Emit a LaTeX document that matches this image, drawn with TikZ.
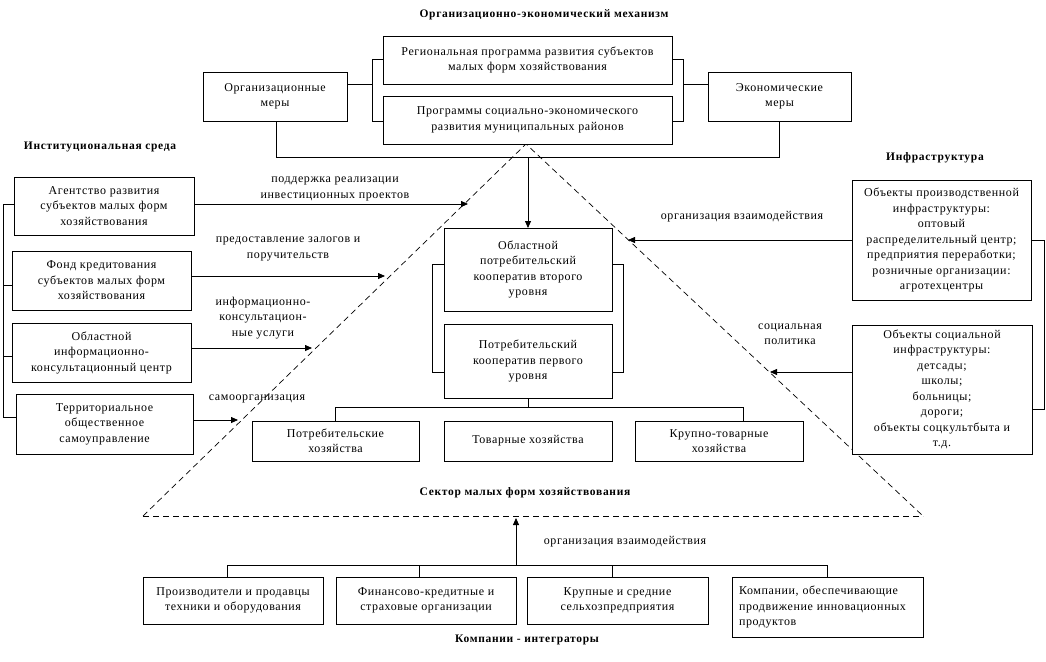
\documentclass[tikz,border=0pt]{standalone}
\usepackage{fontspec}
\setmainfont{Liberation Serif}
\newfontfamily\boxfont[LetterSpace=5]{Liberation Serif}
\newfontfamily\hdfont[LetterSpace=6]{Liberation Serif}
\usetikzlibrary{arrows.meta}
\begin{document}
\begin{tikzpicture}[x=1pt,y=-1pt,
  every node/.style={inner sep=0pt, outer sep=0pt},
  txt/.style={font=\boxfont\fontsize{12}{15.5}\selectfont, align=center},
  hd/.style={font=\hdfont\bfseries\fontsize{11.5}{13}\selectfont, align=center},
  box/.style={draw, line width=0.8pt, fill=white, txt},
  ln/.style={line width=0.8pt},
  arr/.style={line width=0.8pt, -{Triangle[length=7pt,width=6pt]}},
  dsh/.style={line width=0.7pt, dash pattern=on 6pt off 4pt}
]
\useasboundingbox (0,0) rectangle (1046,661);
% dashed triangle
\coordinate (apex) at (526,144);
\coordinate (bl) at (143,516);
\coordinate (br) at (923,516);
\draw[dsh] (bl) -- (apex) -- (br);
\draw[dsh] (bl) -- (br);

% headings
\node[hd] (t1) at (544,15) {Организационно-экономический механизм};
\node[hd] (t2) at (100,147) {Институциональная среда};
\node[hd] (t3) at (935,158) {Инфраструктура};
\node[hd] (t4) at (525,493) {Сектор малых форм хозяйствования};
\node[hd] (t5) at (527,640) {Компании - интеграторы};

% top boxes
\node[box, minimum width=144pt, minimum height=49pt] (org) at (275,96.5) {Организационные\\меры};
\node[box, minimum width=289pt, minimum height=48pt] (reg) at (527.5,60) {Региональная программа развития субъектов\\малых форм хозяйствования};
\node[box, minimum width=289pt, minimum height=48pt] (prog) at (527.5,120) {Программы социально-экономического\\развития муниципальных районов};
\node[box, minimum width=143pt, minimum height=49pt] (econ) at (779.5,96.5) {Экономические\\меры};

% left boxes
\node[box, minimum width=180pt, minimum height=58pt] (agency) at (104,206) {Агентство развития\\субъектов малых форм\\хозяйствования};
\node[box, minimum width=179pt, minimum height=59pt] (fund) at (101.5,280.5) {Фонд кредитования\\субъектов малых форм\\хозяйствования};
\node[box, minimum width=179pt, minimum height=59pt] (info) at (101.5,352.5) {Областной\\информационно-\\консультационный центр};
\node[box, minimum width=177pt, minimum height=60pt] (tos) at (104.5,424) {Территориальное\\общественное\\самоуправление};

% center boxes
\node[box, minimum width=168pt, minimum height=83pt] (obl) at (528,269.5) {Областной\\потребительский\\кооператив второго\\уровня};
\node[box, minimum width=168pt, minimum height=74pt] (coop) at (528,361) {Потребительский\\кооператив первого\\уровня};
\node[box, minimum width=167pt, minimum height=40pt] (hh1) at (335.5,441) {Потребительские\\хозяйства};
\node[box, minimum width=168pt, minimum height=40pt] (hh2) at (528,441) {Товарные хозяйства};
\node[box, minimum width=168pt, minimum height=40pt] (hh3) at (719,441) {Крупно-товарные\\хозяйства};

% right boxes
\node[box, minimum width=179pt, minimum height=120pt] (prod) at (941.5,240) {Объекты производственной\\инфраструктуры:\\оптовый\\распределительный центр;\\предприятия переработки;\\розничные организации:\\агротехцентры};
\node[box, minimum width=180pt, minimum height=129pt] (soc) at (942,389.5) {Объекты социальной\\инфраструктуры:\\детсады;\\школы;\\больницы;\\дороги;\\объекты соцкультбыта и\\т.д.};

% bottom boxes
\node[box, minimum width=180pt, minimum height=47pt] (c1) at (233,600.5) {Производители и продавцы\\техники и оборудования};
\node[box, minimum width=180pt, minimum height=47pt] (c2) at (426,600.5) {Финансово-кредитные и\\страховые организации};
\node[box, minimum width=181pt, minimum height=47pt] (c3) at (617.5,600.5) {Крупные и средние\\сельхозпредприятия};
\node[box, minimum width=191pt, minimum height=60pt, align=left, text width=177pt] (c4) at (827.5,607) {Компании, обеспечивающие\\продвижение инновационных\\продуктов};

% top connectors
\draw[ln] (org.east |- 0,84) -- (372,84);
\draw[ln] (reg.west |- 0,59) -- (372,59) -- (372,121) -- (prog.west |- 0,121);
\draw[ln] (reg.east |- 0,59) -- (683,59) -- (683,121) -- (prog.east |- 0,121);
\draw[ln] (683,84) -- (econ.west |- 0,84);
\draw[ln] (org.south -| 276,0) -- (276,157) -- (779,157) -- (econ.south -| 779,0);
\draw[arr] (528,157) -- (obl.north);

% left side
\draw[ln] (agency.west |- 0,204) -- (3,204) -- (3,417) -- (tos.west |- 0,417);
\draw[ln] (fund.west |- 0,285) -- (3,285);
\draw[ln] (info.west |- 0,356) -- (3,356);
\coordinate (a1) at (468,204);
\coordinate (a2) at (385,276);
\coordinate (a3) at (312,348);
\coordinate (a4) at (238,420);
\draw[arr] (agency.east |- a1) -- (a1);
\draw[arr] (fund.east |- a2) -- (a2);
\draw[arr] (info.east |- a3) -- (a3);
\draw[arr] (tos.east |- a4) -- (a4);
\node[txt] (l1) at (335,189) {поддержка реализации\\инвестиционных проектов};
\node[txt] (l2) at (288,249) {предоставление залогов и\\поручительств};
\node[txt] (l3) at (263,318) {информационно-\\консультацион-\\ные услуги};
\node[txt] (l4) at (257,399) {самоорганизация};

% center connectors
\draw[ln] (obl.west |- 0,264) -- (432,264) -- (432,372) -- (coop.west |- 0,372);
\draw[ln] (obl.east |- 0,264) -- (623,264) -- (623,372) -- (coop.east |- 0,372);
\draw[ln] (coop.south) -- (528,407);
\draw[ln] (hh1.north) -- (335.5,407) -- (743,407) -- (hh3.north -| 743,0);

% right side
\coordinate (a5) at (628,240);
\coordinate (a6) at (770,372);
\draw[arr] (prod.west |- a5) -- (a5);
\draw[arr] (soc.west |- a6) -- (a6);
\draw[ln] (prod.east |- 0,240) -- (1044,240) -- (1044,409) -- (soc.east |- 0,409);
\node[txt] (l5) at (742,217) {организация взаимодействия};
\node[txt] (l6) at (790,334) {социальная\\политика};

% bottom connectors
\draw[ln] (c1.north -| 227,0) -- (227,565) -- (827,565) -- (c4.north -| 827,0);
\draw[ln] (c2.north -| 419,0) -- (419,565);
\draw[ln] (c3.north -| 612,0) -- (612,565);
\coordinate (a7) at (516,518);
\draw[arr] (516,565) -- (a7);
\node[txt] (l7) at (625,542) {организация взаимодействия};
\end{tikzpicture}
\end{document}
